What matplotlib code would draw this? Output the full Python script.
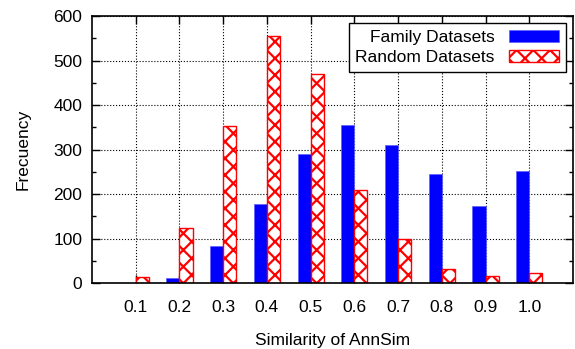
import numpy as np
import matplotlib
matplotlib.use("Agg")
import matplotlib.pyplot as plt
from matplotlib.ticker import MultipleLocator

plt.rcParams['font.family'] = ['Liberation Sans', 'DejaVu Sans']
plt.rcParams['hatch.color'] = 'red'
plt.rcParams['hatch.linewidth'] = 1.6

# Données
categories = ['0.1', '0.2', '0.3', '0.4', '0.5', '0.6', '0.7', '0.8', '0.9', '1.0']
family = [0, 12, 84, 178, 289, 355, 311, 244, 174, 252]
random_ds = [14, 123, 353, 555, 470, 210, 100, 31, 16, 22]

x = np.arange(1, len(categories) + 1)
largeur = 0.3
taille = 12.5

fig = plt.figure(figsize=(5.75, 3.49), dpi=100)
ax = fig.add_axes([0.160, 0.189, 0.8365, 0.765])

ax.bar(x - largeur / 2, family, largeur, color='blue', edgecolor='#6060ff',
       linewidth=0.5, label='Family Datasets', zorder=2)
ax.bar(x + largeur / 2, random_ds, largeur, color='white', edgecolor='red',
       hatch='xx', linewidth=1.0, label='Random Datasets', zorder=2)

ax.set_xlim(0, 11)
ax.set_ylim(0, 600)
ax.set_xticks(x)
ax.set_xticklabels(categories)
ax.yaxis.set_major_locator(MultipleLocator(100))
ax.yaxis.set_minor_locator(MultipleLocator(50))

ax.tick_params(axis='both', which='major', direction='in', length=6, width=1,
               labelsize=taille, top=True, right=True)
ax.tick_params(axis='y', which='minor', direction='in', length=3, width=1,
               right=True)
ax.tick_params(axis='x', pad=12)
ax.tick_params(axis='y', pad=7)
for s in ax.spines.values():
    s.set_linewidth(1.2)

ax.set_axisbelow(True)
ax.grid(True, which='major', linestyle=':', color='black', linewidth=0.8)

ax.set_xlabel("Similarity of AnnSim", fontsize=taille, labelpad=13)
ax.set_ylabel("Frecuency", fontsize=taille, labelpad=16)

leg = ax.legend(loc='upper right', markerfirst=False, fancybox=False,
                framealpha=1, edgecolor='black', fontsize=taille,
                handlelength=2.9, handleheight=0.7, borderaxespad=0.4,
                labelspacing=0.3, borderpad=0.4, handletextpad=0.8)
leg.get_frame().set_linewidth(1.0)

plt.savefig("out.png", dpi=100)
